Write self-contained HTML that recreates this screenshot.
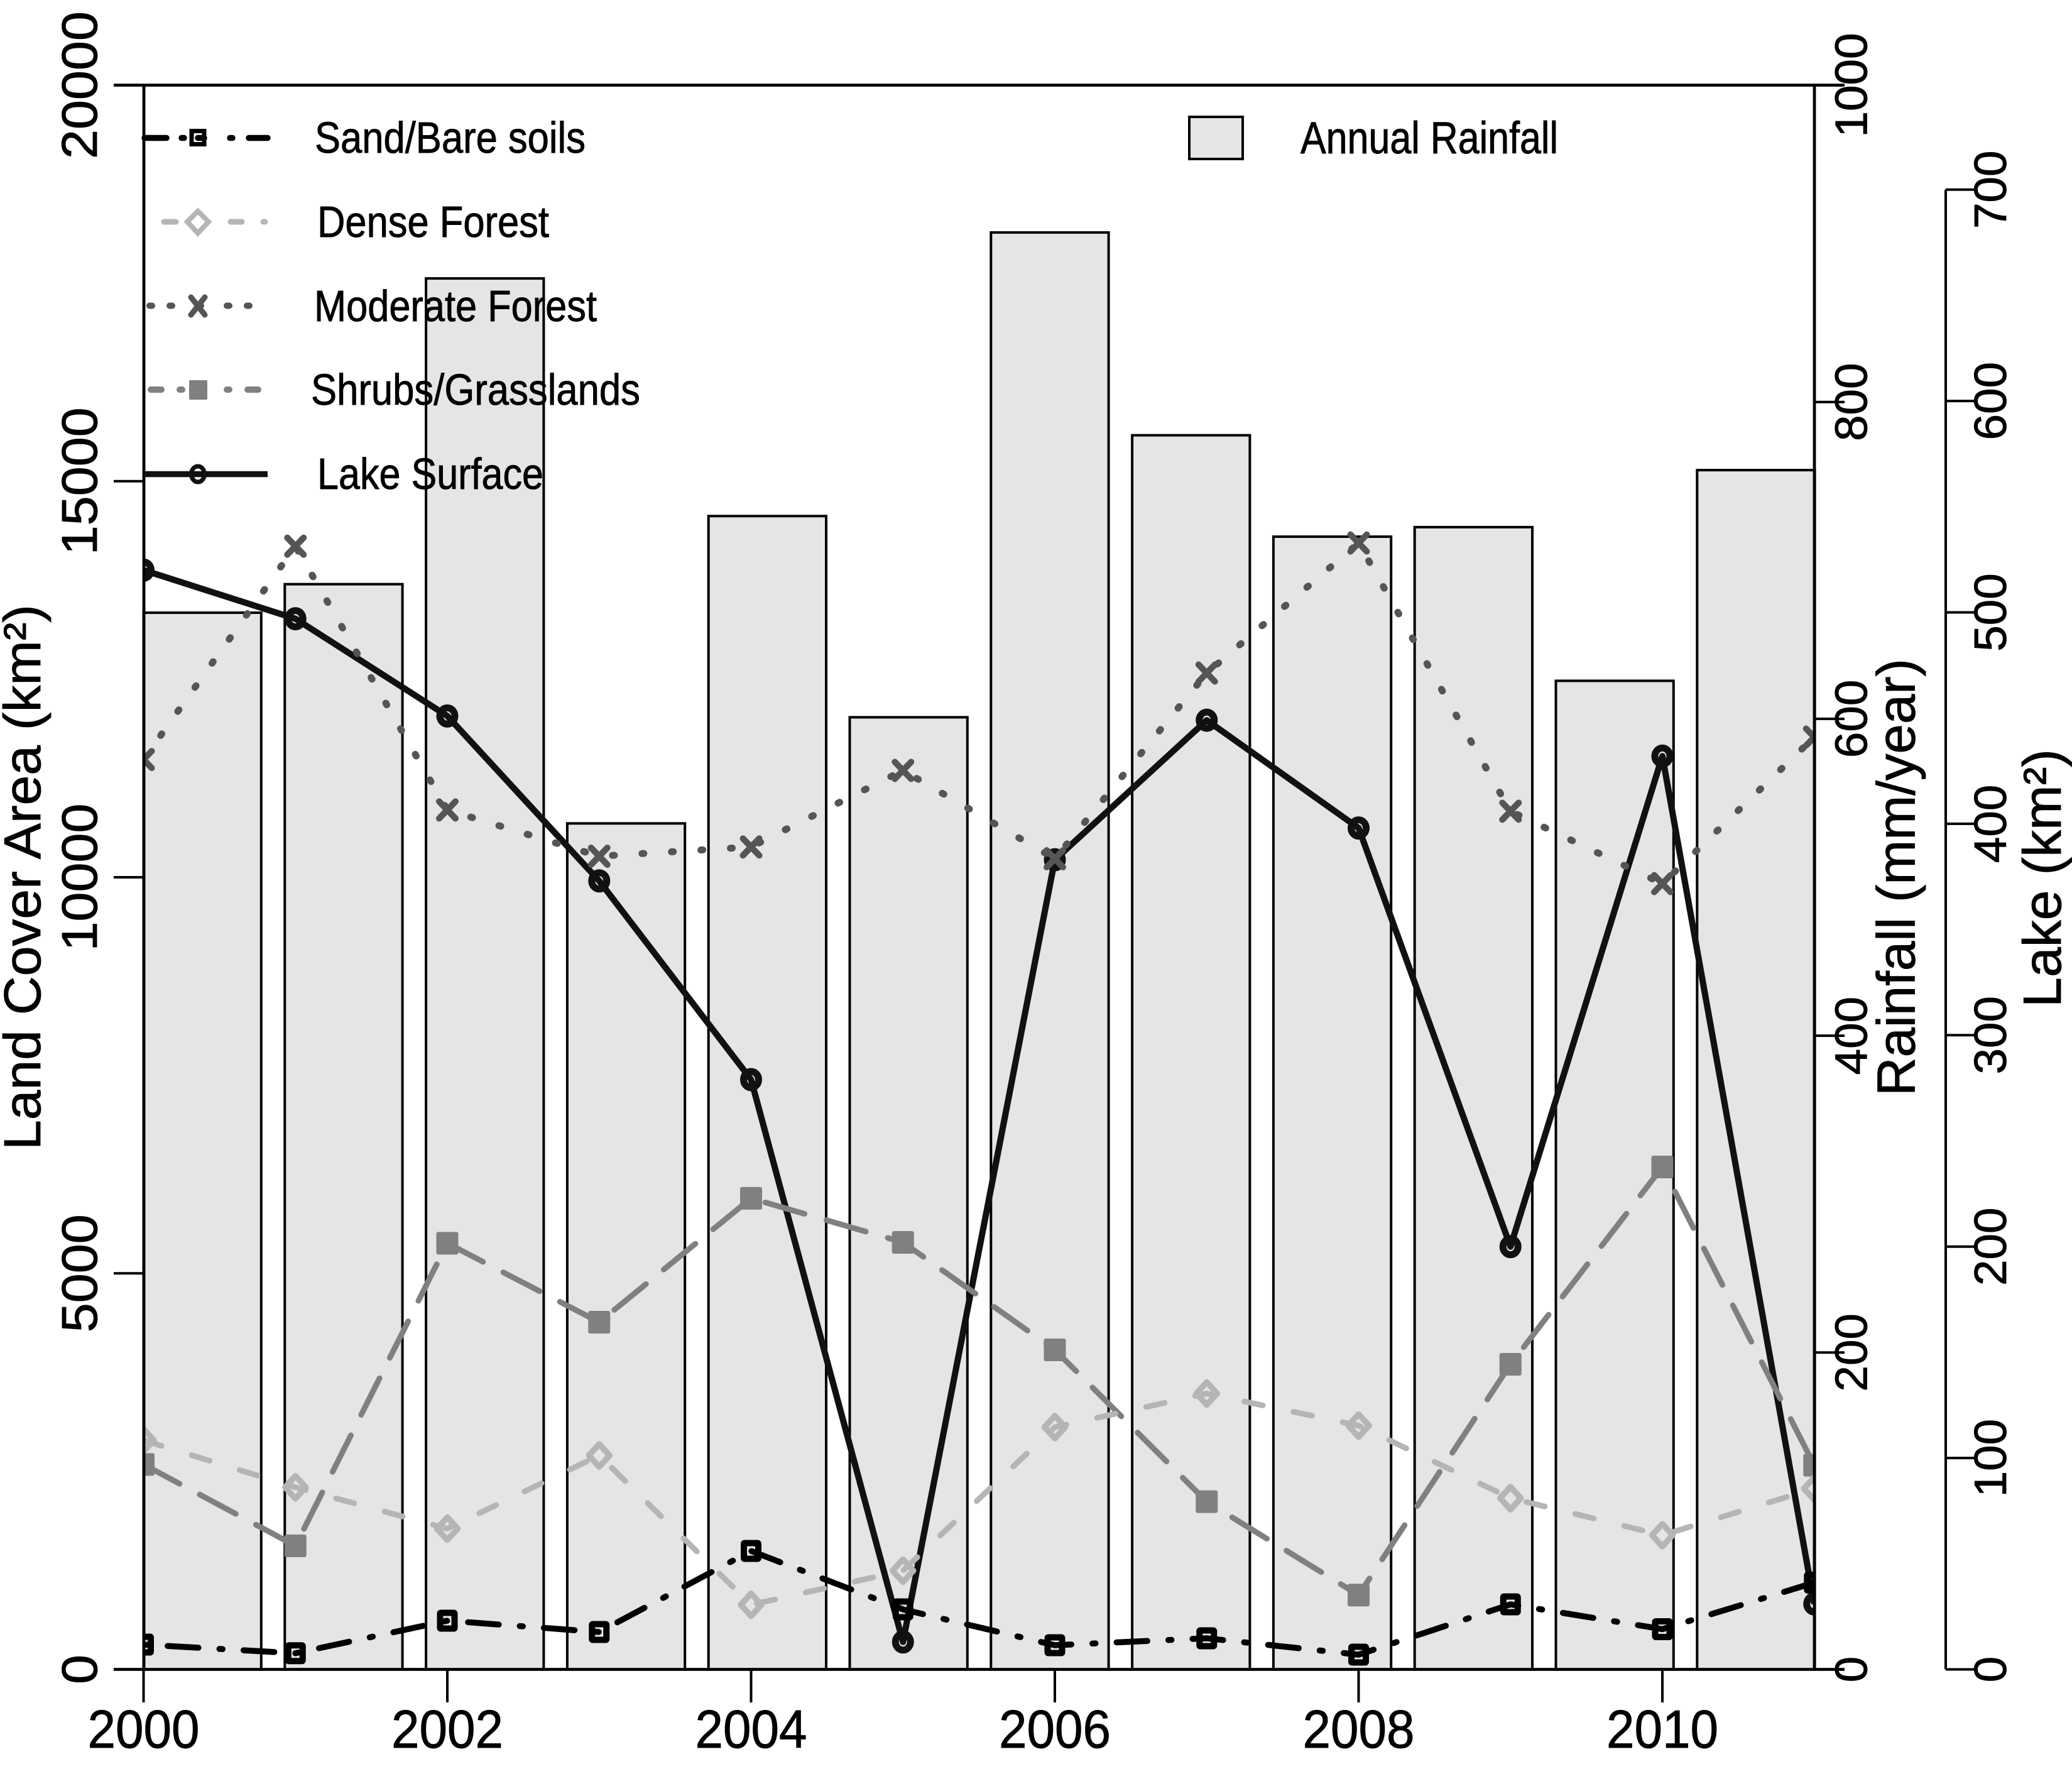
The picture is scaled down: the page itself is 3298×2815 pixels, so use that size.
<!DOCTYPE html>
<html lang="en">
<head>
<meta charset="utf-8">
<title>Land cover, rainfall and lake surface 2000-2011</title>
<style>
html,body{margin:0;padding:0;background:#fff;}
svg{display:block;}
text{font-family:"Liberation Sans",sans-serif;fill:#000;stroke:#000;stroke-width:0.9px;}
</style>
</head>
<body>
<svg id="chart" xmlns="http://www.w3.org/2000/svg" width="3298" height="2815" viewBox="0 0 3298 2815">
  <rect x="0" y="0" width="3298" height="2815" fill="#fff"/>
  <defs>
    <clipPath id="plot-clip"><rect x="229" y="135" width="2659" height="2522"/></clipPath>
  </defs>
  <g id="bars"></g>
  <g id="series" clip-path="url(#plot-clip)"></g>
  <g id="axes"></g>

  <text transform="translate(64,1830) rotate(-90)" font-size="83" textLength="868" lengthAdjust="spacingAndGlyphs">Land Cover Area (km²)</text>
  <text transform="translate(3047.5,1744) rotate(-90)" font-size="85" textLength="696" lengthAdjust="spacingAndGlyphs">Rainfall (mm/year)</text>
  <text transform="translate(3280,1603) rotate(-90)" font-size="85" textLength="411" lengthAdjust="spacingAndGlyphs">Lake (km²)</text>

  <g>
    <g>
      <line x1="230" y1="219.5" x2="426" y2="219.5" stroke="#000" stroke-width="9.5" stroke-linecap="round" stroke-dasharray="35 24 4 22 10 41 4 26 30"/>
      <rect x="305" y="208.5" width="20" height="21" fill="none" stroke="#000" stroke-width="7"/>
      <text x="501" y="243" font-size="70" textLength="431" lengthAdjust="spacingAndGlyphs">Sand/Bare soils</text>
    </g>
    <g>
      <line x1="261" y1="353" x2="424" y2="353" stroke="#b5b5b5" stroke-width="9" stroke-linecap="round" stroke-dasharray="19 87 18 34 3"/>
      <path d="M315 336 L332 353 L315 371 L298 353 Z" fill="none" stroke="#b5b5b5" stroke-width="8"/>
      <text x="505" y="377" font-size="70" textLength="369" lengthAdjust="spacingAndGlyphs">Dense Forest</text>
    </g>
    <g>
      <line x1="238" y1="486.5" x2="400" y2="486.5" stroke="#555" stroke-width="10" stroke-linecap="round" stroke-dasharray="4 28 4 42 4 41 4 28 4"/>
      <path d="M304 473 L326 501 M326 473 L304 501" fill="none" stroke="#555" stroke-width="9" stroke-linecap="round"/>
      <text x="500" y="511" font-size="70" textLength="450" lengthAdjust="spacingAndGlyphs">Moderate Forest</text>
    </g>
    <g>
      <line x1="240" y1="620" x2="411" y2="620" stroke="#808080" stroke-width="10" stroke-linecap="round" stroke-dasharray="17 29 4 71 4 29 17"/>
      <rect x="301" y="605" width="29" height="31" rx="2" fill="#808080"/>
      <text x="495" y="644" font-size="70" textLength="524" lengthAdjust="spacingAndGlyphs">Shrubs/Grasslands</text>
    </g>
    <g>
      <line x1="230" y1="754.5" x2="426" y2="754.5" stroke="#111" stroke-width="9.5"/>
      <ellipse cx="315" cy="754.5" rx="10.5" ry="12.5" fill="none" stroke="#111" stroke-width="7"/>
      <text x="505" y="778" font-size="70" textLength="360" lengthAdjust="spacingAndGlyphs">Lake Surface</text>
    </g>
    <g>
      <rect x="1900" y="186" width="85" height="67" fill="#e5e5e5" stroke="#000" stroke-width="4" transform="translate(-7,0)"/>
      <text x="2070" y="244" font-size="71" textLength="410" lengthAdjust="spacingAndGlyphs">Annual Rainfall</text>
    </g>
  </g>
</svg>
<script>
var years = [2000,2001,2002,2003,2004,2005,2006,2007,2008,2009,2010,2011];
var rainfall = [667,685,878,534,728,601,907,779,715,721,624,757];
var sandBareSoils = [313,204,615,472,1495,758,305,393,186,821,508,1095];
var denseForest = [2892,2299,1777,2701,816,1246,3058,3483,3078,2162,1694,2283];
var moderateForest = [11487,14180,10850,10266,10383,11349,10234,12578,14220,10834,9920,11769];
var shrubsGrasslands = [2587,1560,5380,4383,5947,5391,4034,2117,938,3852,6343,2577];
var lakeSurface = [520,497,451,373,279,13,383,449,398,200,432,31];
var xTicks = [2000,2002,2004,2006,2008,2010];
var landTicks = [0,5000,10000,15000,20000];
var rainTicks = [0,200,400,600,800,1000];
var lakeTicks = [0,100,200,300,400,500,600,700];

var NS = 'http://www.w3.org/2000/svg';
var PLOT_BOTTOM = 2656.5, PLOT_TOP = 135.5, PLOT_LEFT = 229, PLOT_RIGHT = 2888;
function xScale(y){ return 228.5 + (y - 2000) * 241.75; }
function yLand(v){ return PLOT_BOTTOM - v * (PLOT_BOTTOM - PLOT_TOP) / 20000; }
function yRain(v){ return PLOT_BOTTOM - v * (PLOT_BOTTOM - PLOT_TOP) / 1000; }
function yLake(v){ return PLOT_BOTTOM - v * 3.364; }
function barLeft(i){ return 228.5 + i * 224.8; }
var BAR_WIDTH = 187.3;

function mk(tag, parent){
  var el = document.createElementNS(NS, tag);
  parent.appendChild(el);
  return el;
}
function setAll(el, o){ for (var k in o) el.setAttribute(k, o[k]); return el; }

/* bars */
var barsG = document.getElementById('bars');
rainfall.forEach(function(v, i){
  var r = mk('rect', barsG);
  
  
  setAll(r, {x: barLeft(i), y: yRain(v), width: BAR_WIDTH, height: PLOT_BOTTOM - yRain(v), fill: '#e5e5e5', stroke: '#000', 'stroke-width': 4});
});

/* series */
var seriesG = document.getElementById('series');
function drawSeries(name, values, yFn, color, dash, width, markerFn){
  var g = mk('g', seriesG);
  
  
  var pts = values.map(function(v, i){ return xScale(years[i]) + ',' + yFn(v); }).join(' ');
  var line = mk('polyline', g);
  
  
  setAll(line, {points: pts, fill: 'none', stroke: color, 'stroke-width': width, 'stroke-linecap': dash ? 'round' : 'butt', 'stroke-linejoin': 'round'});
  if (dash) line.setAttribute('stroke-dasharray', dash);
  values.forEach(function(v, i){
    var m = markerFn(g, xScale(years[i]), yFn(v));
    
    
  });
}
function circleMarker(g, x, y){
  return setAll(mk('ellipse', g), {cx: x, cy: y, rx: 12, ry: 13, fill: 'none', stroke: '#111', 'stroke-width': 11});
}
function hollowSquare(g, x, y){
  return setAll(mk('rect', g), {x: x - 11.5, y: y - 12.5, width: 23, height: 25, rx: 1, fill: 'none', stroke: '#000', 'stroke-width': 10});
}
function filledSquare(g, x, y){
  return setAll(mk('rect', g), {x: x - 17.5, y: y - 18, width: 35, height: 36, rx: 3, fill: '#808080'});
}
function crossMarker(g, x, y){
  return setAll(mk('path', g), {d: 'M' + (x-13) + ' ' + (y-13.5) + ' L' + (x+13) + ' ' + (y+13.5) + ' M' + (x+13) + ' ' + (y-13.5) + ' L' + (x-13) + ' ' + (y+13.5), fill: 'none', stroke: '#555', 'stroke-width': 10, 'stroke-linecap': 'round'});
}
function diamondMarker(g, x, y){
  return setAll(mk('path', g), {d: 'M' + x + ' ' + (y-18) + ' L' + (x+16.5) + ' ' + y + ' L' + x + ' ' + (y+18) + ' L' + (x-16.5) + ' ' + y + ' Z', fill: 'none', stroke: '#b5b5b5', 'stroke-width': 9.5, 'stroke-linejoin': 'round'});
}
drawSeries('lake-surface', lakeSurface, yLake, '#111', null, 10, circleMarker);
drawSeries('sand-bare-soils', sandBareSoils, yLand, '#000', '5 33.5 49 33.5', 9.5, hollowSquare);
drawSeries('shrubs-grasslands', shrubsGrasslands, yLand, '#808080', '65 36.5', 9, filledSquare);
drawSeries('moderate-forest', moderateForest, yLand, '#555', '3 44', 11, crossMarker);
drawSeries('dense-forest', denseForest, yLand, '#b5b5b5', '30 50', 9, diamondMarker);

/* axes */
var axesG = document.getElementById('axes');
function axisLine(name, x1, y1, x2, y2, w){
  var l = mk('line', axesG);
  
  
  setAll(l, {x1: x1, y1: y1, x2: x2, y2: y2, stroke: '#000', 'stroke-width': w});
  return l;
}
function tickLabel(name, str, x, y, rotate, size, perDigit){
  var t = mk('text', axesG);
  
  
  var len = perDigit * str.length;
  setAll(t, {'font-size': size, textLength: len, lengthAdjust: 'spacingAndGlyphs'});
  if (rotate) {
    t.setAttribute('transform', 'translate(' + x + ',' + (y + len / 2) + ') rotate(-90)');
  } else {
    t.setAttribute('x', x - len / 2);
    t.setAttribute('y', y);
  }
  t.textContent = str;
}
axisLine('x-axis-top-line', 181, PLOT_TOP, 2936, PLOT_TOP, 4.8);
axisLine('x-axis-line', 181, PLOT_BOTTOM, 2936, PLOT_BOTTOM, 4.8);
axisLine('land-axis-line', PLOT_LEFT, PLOT_TOP, PLOT_LEFT, PLOT_BOTTOM, 4.8);
axisLine('rain-axis-line', PLOT_RIGHT, PLOT_TOP, PLOT_RIGHT, PLOT_BOTTOM, 4.8);
axisLine('lake-axis-line', 3097, yLake(700), 3097, PLOT_BOTTOM, 4);

xTicks.forEach(function(v){
  axisLine('x-tick-' + v, xScale(v), PLOT_BOTTOM, xScale(v), 2709, 4);
  tickLabel('x-tick-label-' + v, String(v), xScale(v), 2781, false, 85, 44.5);
});
landTicks.forEach(function(v){
  axisLine('land-tick-' + v, 181, yLand(v), PLOT_LEFT, yLand(v), 4);
  tickLabel('land-tick-label-' + v, String(v), 154, yLand(v), true, 80, 47);
});
rainTicks.forEach(function(v){
  axisLine('rain-tick-' + v, PLOT_RIGHT, yRain(v), 2936, yRain(v), 4);
  tickLabel('rain-tick-label-' + v, String(v), 2971.6, yRain(v), true, 72, 41.5);
});
lakeTicks.forEach(function(v){
  axisLine('lake-tick-' + v, 3097, yLake(v), 3145, yLake(v), 4);
  tickLabel('lake-tick-label-' + v, String(v), 3193, yLake(v), true, 72, 41.5);
});
</script>
</body>
</html>
